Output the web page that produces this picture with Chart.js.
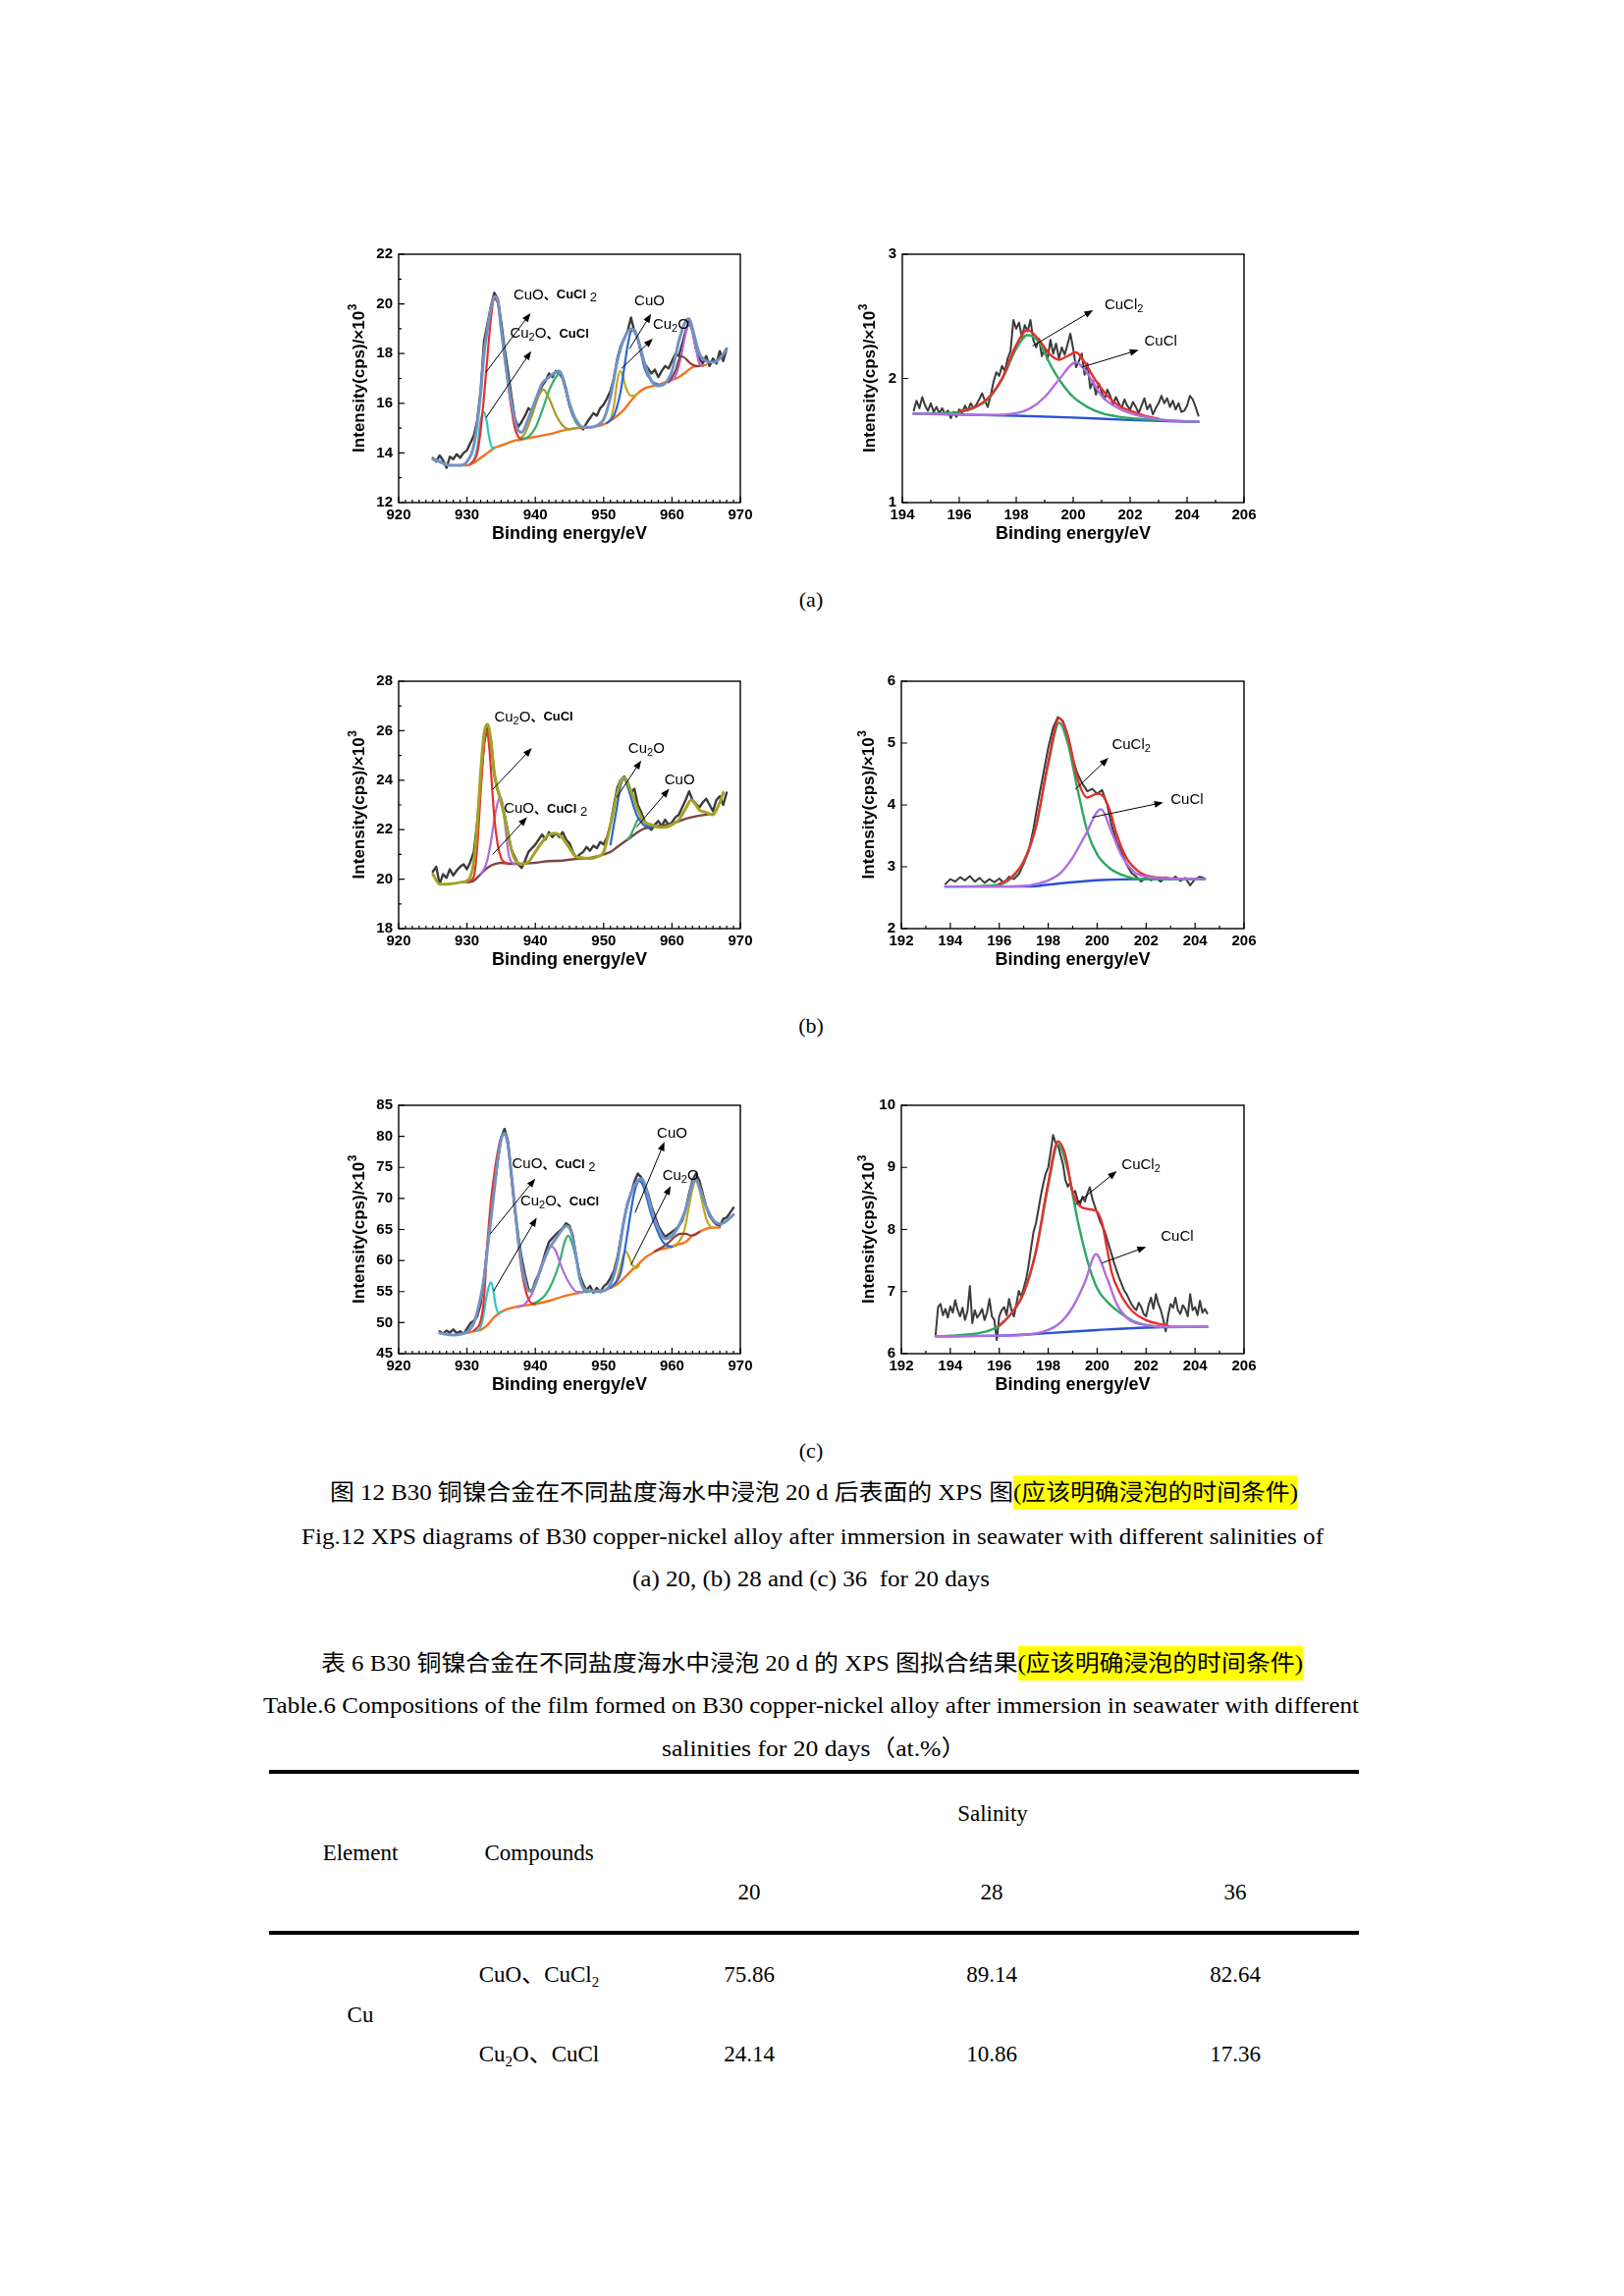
<!DOCTYPE html>
<html>
<head>
<meta charset="utf-8">
<script src="https://cdn.jsdelivr.net/npm/chart.js@4.4.0/dist/chart.umd.min.js"></script>
<style>
  body { margin: 0; background: #fff; }
  #page { position: relative; width: 1654px; height: 2339px; background: #fff; overflow: hidden;
          font-family: "Liberation Serif", "Times New Roman", "Noto Sans CJK SC", serif; color: #000; }
  .t { position: absolute; white-space: nowrap; font-size: 23px; line-height: 30px; }
  .c { position: absolute; white-space: nowrap; font-size: 23px; line-height: 30px; transform: translate(-50%, -50%); }
  .hl { background: #ffff00; padding: 5px 0; }
  .rule { position: absolute; background: #000; height: 4px; left: 274px; width: 1110px; }
  sub { font-size: 15px; vertical-align: -5px; line-height: 0; }
</style>
</head>
<body>
<div id="page">
  <div class="c" style="left:826px;top:611px;font-size:22px">(a)</div>
  <div class="c" style="left:826px;top:1045px;font-size:22px">(b)</div>
  <div class="c" style="left:826px;top:1478px;font-size:22px">(c)</div>

  <div class="t fit" data-l="336" data-w="986" style="top:1506px">图 12 B30 铜镍合金在不同盐度海水中浸泡 20 d 后表面的 XPS 图<span class="hl">(应该明确浸泡的时间条件)</span></div>
  <div class="t fit" data-l="307" data-w="1041" style="top:1551px">Fig.12 XPS diagrams of B30 copper-nickel alloy after immersion in seawater with different salinities of</div>
  <div class="t fit" data-l="644" data-w="364" style="top:1594px">(a) 20, (b) 28 and (c) 36&nbsp; for 20 days</div>

  <div class="t fit" data-l="327" data-w="1000" style="top:1680px">表 6 B30 铜镍合金在不同盐度海水中浸泡 20 d 的 XPS 图拟合结果<span class="hl">(应该明确浸泡的时间条件)</span></div>
  <div class="t fit" data-l="268" data-w="1116" style="top:1723px">Table.6 Compositions of the film formed on B30 copper-nickel alloy after immersion in seawater with different</div>
  <div class="t fit" data-l="674" data-w="310" style="top:1767px">salinities for 20 days（at.%）</div>

  <div class="rule" style="top:1803px"></div>
  <div class="rule" style="top:1967px"></div>
  <div id="table"></div>
</div>

<script>
// ---------- data ----------
// Cu 2p, left column (binding energy / eV, intensity / 10^3 cps)
const eCuAB = [925,925.5,926,926.5,927,927.5,928,928.5,929,929.5,
  930,930.5,931,931.5,932,932.5,933,933.5,934,934.5,
  935,935.5,936,936.5,937,937.5,938,938.5,939,939.5,
  940,940.5,941,941.5,942,942.5,943,943.5,944,944.5,
  945,945.5,946,946.5,947,947.5,948,948.5,949,949.5,
  950,950.5,951,951.5,952,952.5,953,953.5,954,954.5,
  955,955.5,956,956.5,957,957.5,958,958.5,959,959.5,
  960,960.5,961,961.5,962,962.5,963,963.5,964,964.5,
  965,965.5,966,966.5,967,967.5,968];
const eCuC = [926,926.5,927,927.5,928,928.5,929,929.5,930,930.5,
  931,931.5,932,932.5,933,933.5,934,934.5,935,935.5,
  936,936.5,937,937.5,938,938.5,939,939.5,940,940.5,
  941,941.5,942,942.5,943,943.5,944,944.5,945,945.5,
  946,946.5,947,947.5,948,948.5,949,949.5,950,950.5,
  951,951.5,952,952.5,953,953.5,954,954.5,955,955.5,
  956,956.5,957,957.5,958,958.5,959,959.5,960,960.5,
  961,961.5,962,962.5,963,963.5,964,964.5,965,965.5,
  966,966.5,967,967.5,968,968.5,969];

const rawA_Cu = [13.8,13.65,13.9,13.7,13.4,13.85,13.75,13.95,13.8,14.0,
  14.1,14.4,14.7,15.3,16.5,18.5,19.2,19.9,20.45,20.2,
  19.3,18.2,17.3,16.3,15.4,15.05,15.25,15.5,15.8,15.7,
  16.1,16.4,16.7,16.9,17.2,17.05,17.3,17.2,17.0,16.5,
  15.9,15.5,15.3,15.1,14.95,15.2,15.4,15.6,15.5,15.8,
  15.95,16.2,16.5,17.0,17.8,18.3,18.6,18.9,19.45,18.9,
  18.6,18.0,17.6,17.4,17.2,17.35,17.05,17.3,17.5,17.4,
  17.7,18.0,17.9,18.4,18.9,19.3,18.9,18.2,17.8,17.6,
  17.9,17.5,17.8,17.6,18.1,17.7,18.2];
const rawB_Cu = [20.3,20.5,19.8,20.2,20.05,20.4,20.15,20.35,20.5,20.6,
  20.4,20.7,21.1,22.3,23.9,25.5,26.2,25.6,24.2,23.6,
  23.2,22.6,21.9,21.2,20.9,20.6,20.45,20.75,21.1,21.25,
  21.4,21.6,21.8,21.6,21.9,21.7,21.85,21.7,21.9,21.6,
  21.45,21.1,20.85,21.0,21.1,21.3,21.15,21.35,21.25,21.5,
  21.4,21.7,22.2,23.0,23.7,24.0,24.15,23.95,23.5,23.65,
  23.0,22.7,22.35,22.1,22.0,22.2,22.35,22.15,22.4,22.2,
  22.3,22.5,22.6,22.9,23.2,23.55,23.2,23.05,22.9,23.1,
  23.25,23.0,22.75,23.2,23.35,23.0,23.5];
const rawC_Cu = [48.6,48.2,48.7,48.4,48.9,48.3,48.6,48.2,49.0,49.9,
  50.3,51.0,53.0,57.2,62.5,67.2,71.9,76.1,79.8,81.2,
  79.2,73.5,68.2,64.0,60.4,57.7,55.4,55.0,56.7,57.8,
  59.5,61.4,63.0,63.6,64.2,64.7,65.2,66.0,65.6,64.0,
  60.4,57.7,56.2,55.2,55.9,54.8,55.6,54.9,55.8,56.3,
  57.2,58.3,60.4,63.5,66.6,69.3,70.8,72.7,74.0,73.4,
  72.3,70.8,68.7,67.2,65.6,64.6,63.8,64.2,64.6,65.0,
  65.6,66.4,68.2,70.8,72.9,74.0,72.9,70.8,68.7,67.2,
  66.4,65.8,65.6,66.7,66.9,67.7,68.5];

// fitted Cu 2p curves, [energy, intensity]
const aCu_bg = [[929,13.5],[930,13.5],[931,13.6],[932,13.8],[933,14.0],[934,14.2],[935,14.3],[936,14.4],[937,14.5],[938,14.55],[940,14.65],[942,14.75],[944,14.9],[946,15.0],[948,15.03],[950,15.15],[951,15.3],[952,15.5],[953,15.75],[954,16.1],[955,16.4],[956,16.6],[958,16.75],[960,16.95],[961,17.05],[962,17.25],[963,17.45],[964,17.5],[965,17.55]];
const aCu_env = [[925,13.75],[926,13.65],[927,13.52],[928,13.5],[929,13.5],[930,13.65],[931,14.3],[932,16.4],[932.5,18.0],[933,19.0],[933.5,19.8],[934,20.3],[934.5,20.15],[935,19.0],[936,16.9],[937,15.35],[937.5,14.9],[938,14.83],[939,15.4],[940,16.1],[941,16.8],[942,17.05],[943,17.25],[943.5,17.3],[944,17.05],[945,16.0],[946,15.3],[947,15.03],[948,15.03],[949,15.1],[950,15.35],[951,16.25],[952,17.7],[953,18.6],[954,19.0],[954.5,18.95],[955,18.6],[956,17.6],[957,16.9],[958,16.7],[959,16.8],[960,17.3],[961,18.5],[962,19.3],[962.5,19.4],[963,19.0],[964,18.0],[965,17.7],[966,17.65],[967,17.8],[968,18.2]];
const aCu_red = [[930.5,13.55],[931.5,14.0],[932,14.9],[932.5,16.3],[933,17.9],[933.5,19.4],[934,20.2],[934.5,20.05],[935,19.0],[935.5,17.9],[936,16.8],[936.5,15.8],[937,15.0],[937.5,14.65],[938,14.55]];
const aCu_cyan = [[930.5,13.55],[931,13.7],[931.5,14.2],[932,15.3],[932.4,15.65],[932.8,15.4],[933.2,14.7],[933.6,14.25],[934,14.2]];
const aCu_olive = [[937.5,14.5],[938.5,14.8],[939.5,15.5],[940.5,16.3],[941.2,16.55],[942,16.2],[943,15.55],[944,15.1],[945,14.95],[946,15.0]];
const aCu_green = [[938,14.55],[939,14.65],[940,15.0],[941,15.7],[942,16.5],[943,17.05],[943.7,17.2],[944.5,16.6],[945,16.0],[945.5,15.5],[946,15.2],[947,15.03]];
const aCu_blue = [[950.5,15.2],[951.5,15.5],[952,15.9],[952.5,16.5],[953,17.4],[953.5,18.3],[954,18.9],[954.5,18.95],[955,18.6],[955.5,18.0],[956,17.4],[957,16.9],[958,16.75]];
const aCu_yellow = [[950.5,15.2],[951,15.35],[951.5,15.9],[952,16.9],[952.4,17.3],[952.8,17.1],[953.3,16.6],[954,16.3],[954.5,16.3],[955,16.4]];
const aCu_brown = [[959.5,16.85],[960.5,17.3],[961.3,17.9],[962,17.8],[962.5,17.65],[963,17.55],[963.5,17.5],[964,17.5]];
const aCu_purple = [[959.5,16.85],[960.5,17.1],[961,17.5],[961.5,18.1],[962,18.8],[962.5,19.2],[963,18.9],[963.5,18.2],[964,17.6],[964.5,17.5]];

const bCu_bg = [[930,19.87],[931,19.94],[932,20.2],[933,20.46],[934,20.6],[935,20.66],[936,20.63],[938,20.62],[940,20.66],[942,20.73],[944,20.75],[946,20.82],[948,20.86],[950,21.0],[951,21.1],[952,21.3],[953,21.5],[954,21.7],[955,21.9],[956,22.05],[957,22.1],[958,22.15],[960,22.24],[962,22.44],[964,22.57],[966,22.64]];
const bCu_env = [[925,20.2],[926,19.8],[927,19.8],[928,19.82],[929,19.87],[930,19.93],[930.5,20.1],[931,20.7],[931.5,22.2],[932,24.3],[932.5,25.87],[933,26.26],[933.5,25.6],[934,24.3],[934.5,23.6],[935,23.1],[935.5,22.5],[936,21.8],[936.5,21.2],[937,20.8],[937.5,20.65],[938,20.6],[939,20.7],[940,21.1],[941,21.5],[942,21.8],[943,21.85],[944,21.65],[945,21.25],[946,20.9],[947,20.86],[948,20.83],[949,20.9],[950,21.1],[951,22.2],[952,23.5],[952.5,23.95],[953,24.1],[953.5,23.9],[954,23.56],[954.5,23.2],[955,22.8],[956,22.3],[957,22.2],[958,22.1],[959,22.1],[960,22.2],[961,22.4],[962,22.85],[962.8,23.2],[963.5,23.0],[964,22.8],[965,22.7],[966,22.6],[966.5,22.8],[967,23.1],[967.5,23.5]];
const bCu_red = [[930.5,19.95],[931,20.1],[931.5,21.3],[932,23.5],[932.5,25.4],[932.9,26.0],[933.3,25.2],[933.7,23.6],[934,22.5],[934.5,21.4],[935,20.85],[935.5,20.68],[936,20.63]];
const bCu_purple = [[932,20.2],[932.5,20.4],[933,20.8],[933.5,21.5],[934,22.4],[934.5,23.1],[934.9,23.3],[935.3,22.9],[935.7,21.9],[936.1,21.0],[936.5,20.7],[937,20.62]];
const bCu_blue = [[951,21.4],[951.5,22.2],[952,23.0],[952.5,23.8],[953,24.05],[953.5,23.75],[954,23.3],[954.5,22.85],[955,22.5],[955.5,22.3],[956,22.15],[956.5,22.1],[957,22.1]];
const bCu_green = [[953.5,21.6],[954,21.8],[954.5,22.1],[955,22.4],[955.5,22.45],[956,22.35],[956.5,22.2],[957,22.12]];

const cCu_bg = [[930,48.3],[931,48.6],[932,48.8],[933,49.6],[934,50.9],[935,51.7],[936,52.2],[937,52.5],[938,52.7],[940,53.0],[942,53.5],[944,54.2],[946,54.7],[948,55.1],[950,55.2],[951,55.6],[952,56.2],[953,57.2],[954,58.3],[955,59.3],[956,60.4],[957,61.1],[958,61.7],[960,62.2],[961,62.6],[962,63.0],[963,64.0],[964,64.6],[965,65.1],[966,65.3],[967,65.3]];
const cCu_env = [[926,48.3],[928,48.0],[930,48.5],[931,49.9],[932,54.1],[932.5,57.2],[933,61.9],[933.5,66.6],[934,71.4],[934.5,76.1],[935,79.5],[935.5,80.5],[936,78.7],[936.5,74.0],[937,68.7],[937.5,63.5],[938,59.3],[938.5,56.7],[939,55.1],[939.5,55.1],[940,56.2],[941,59.3],[942,61.9],[943,63.5],[944,65.1],[944.5,65.6],[945,65.3],[945.5,63.5],[946,60.4],[946.5,57.2],[947,55.6],[948,55.1],[949,55.0],[950,55.1],[951,56.2],[952,59.8],[953,66.6],[954,70.8],[955,72.9],[955.5,73.2],[956,72.4],[957,68.2],[958,65.1],[959,63.5],[960,64.0],[961,65.6],[962,68.2],[963,72.4],[963.5,73.2],[964,71.9],[965,68.7],[966,66.6],[967,65.9],[968,66.4],[969,67.4]];
const cCu_red = [[931,48.7],[932,50.3],[932.5,54.0],[933,63.0],[933.5,69.5],[934,74.0],[934.5,77.5],[935,79.8],[935.5,80.3],[936,78.5],[936.5,73.8],[937,68.5],[937.5,63.0],[938,58.5],[938.5,55.5],[939,53.8],[939.5,53.1],[940,53.0]];
const cCu_cyan = [[931,48.6],[931.8,48.9],[932.3,50.5],[932.8,53.8],[933.2,55.8],[933.5,56.5],[933.8,55.5],[934.2,52.8],[934.6,51.6],[935,51.75]];
const cCu_purple = [[937.5,52.5],[938.5,53.0],[939.5,54.6],[940.5,57.5],[941.5,60.6],[942.3,62.3],[943,61.5],[943.5,60.0],[944,58.5],[945,56.3],[946,55.0],[947,54.9]];
const cCu_green = [[939.5,53.0],[940.5,53.5],[941.5,54.5],[942.5,56.5],[943.5,59.5],[944.3,63.0],[944.8,64.0],[945.3,63.0],[946,60.2],[946.5,57.5],[947,55.5],[947.5,54.9],[948,55.1]];
const cCu_blue = [[951,55.6],[952,56.8],[952.5,58.0],[953,61.0],[953.5,64.5],[954,68.0],[954.5,71.0],[955.2,72.8],[955.8,72.0],[956.5,69.3],[957,67.3],[957.5,65.8],[958,64.4],[958.5,63.3],[959,62.6],[960,62.2]];
const cCu_yellow = [[951,55.6],[951.8,56.5],[952.4,58.8],[953.2,61.5],[953.7,60.6],[954.2,59.3],[954.8,58.8],[955.2,59.2]];
const cCu_brown = [[957.5,61.5],[958.5,62.1],[959.5,62.9],[960.5,63.9],[961.2,64.3],[962,64.3],[962.8,64.0],[963.5,64.2],[964,64.6]];
const cCu_yellow2 = [[960,62.3],[961,63.0],[961.8,64.8],[962.4,68.2],[963,71.5],[963.5,72.8],[964,71.5],[964.5,69.0],[965,66.8],[965.5,65.6],[966,65.3]];

// Cl 2p, right column
const eClA = [194.4,194.5,194.6,194.7,194.8,194.9,195.0,195.1,195.2,195.3,
  195.4,195.5,195.6,195.7,195.8,195.9,196.0,196.1,196.2,196.3,
  196.4,196.5,196.6,196.7,196.8,196.9,197.0,197.1,197.2,197.3,
  197.4,197.5,197.6,197.7,197.8,197.9,198.0,198.1,198.2,198.3,
  198.4,198.5,198.6,198.7,198.8,198.9,199.0,199.1,199.2,199.3,
  199.4,199.5,199.6,199.7,199.8,199.9,200.0,200.1,200.2,200.3,
  200.4,200.5,200.6,200.7,200.8,200.9,201.0,201.1,201.2,201.3,
  201.4,201.5,201.6,201.7,201.8,201.9,202.0,202.1,202.2,202.3,
  202.4,202.5,202.6,202.7,202.8,202.9,203.0,203.1,203.2,203.3,
  203.4,203.5,203.6,203.7,203.8,203.9,204.0,204.1,204.2,204.3,
  204.4];
const rawA_Cl = [1.74,1.82,1.76,1.85,1.78,1.74,1.80,1.73,1.77,1.72,
  1.76,1.71,1.74,1.68,1.73,1.69,1.75,1.72,1.78,1.74,
  1.80,1.76,1.79,1.83,1.88,1.82,1.77,1.86,1.97,2.05,
  2.02,2.10,2.06,2.16,2.22,2.47,2.40,2.45,2.33,2.43,
  2.38,2.47,2.31,2.25,2.32,2.18,2.24,2.15,2.31,2.20,
  2.28,2.16,2.25,2.19,2.27,2.36,2.24,2.09,2.14,2.20,
  2.03,2.12,1.92,1.98,1.87,1.96,1.89,1.83,1.91,1.86,
  1.79,1.85,1.80,1.76,1.83,1.78,1.75,1.81,1.77,1.72,
  1.78,1.84,1.75,1.79,1.71,1.76,1.80,1.86,1.80,1.84,
  1.77,1.82,1.75,1.80,1.73,1.74,1.78,1.86,1.83,1.77,
  1.70];
const eClB = [193.8,194.0,194.2,194.4,194.6,194.8,195.0,195.2,195.4,195.6,
  195.8,196.0,196.2,196.4,196.6,196.8,197.0,197.2,197.4,197.6,
  197.8,198.0,198.2,198.4,198.6,198.8,199.0,199.2,199.4,199.6,
  199.8,200.0,200.2,200.4,200.6,200.8,201.0,201.2,201.4,201.6,
  201.8,202.0,202.2,202.4,202.6,202.8,203.0,203.2,203.4,203.6,
  203.8,204.0,204.2,204.4];
const rawB_Cl = [2.72,2.80,2.76,2.83,2.78,2.85,2.76,2.82,2.74,2.80,
  2.75,2.81,2.74,2.84,2.80,2.88,3.05,3.25,3.62,4.08,
  4.50,4.92,5.25,5.42,5.36,5.12,4.75,4.50,4.34,4.22,
  4.26,4.18,4.24,4.02,3.66,3.40,3.24,3.04,2.90,2.84,
  2.76,2.83,2.78,2.82,2.76,2.83,2.79,2.84,2.77,2.82,
  2.70,2.80,2.84,2.81];
const eClC = [193.4,193.5,193.6,193.7,193.8,193.9,194.0,194.1,194.2,194.3,
  194.4,194.5,194.6,194.7,194.8,194.9,195.0,195.1,195.2,195.3,
  195.4,195.5,195.6,195.7,195.8,195.9,196.0,196.1,196.2,196.3,
  196.4,196.5,196.6,196.7,196.8,196.9,197.0,197.1,197.2,197.3,
  197.4,197.5,197.6,197.7,197.8,197.9,198.0,198.1,198.2,198.3,
  198.4,198.5,198.6,198.7,198.8,198.9,199.0,199.1,199.2,199.3,
  199.4,199.5,199.6,199.7,199.8,199.9,200.0,200.1,200.2,200.3,
  200.4,200.5,200.6,200.7,200.8,200.9,201.0,201.1,201.2,201.3,
  201.4,201.5,201.6,201.7,201.8,201.9,202.0,202.1,202.2,202.3,
  202.4,202.5,202.6,202.7,202.8,202.9,203.0,203.1,203.2,203.3,
  203.4,203.5,203.6,203.7,203.8,203.9,204.0,204.1,204.2,204.3,
  204.4,204.5];
const rawC_Cl = [6.30,6.75,6.80,6.62,6.72,6.58,6.76,6.66,6.86,6.70,
  6.60,6.74,6.54,6.68,7.09,6.49,6.70,6.58,6.64,6.72,
  6.54,6.66,6.88,6.60,6.54,6.22,6.60,6.70,6.75,6.62,
  6.88,6.70,6.60,6.80,7.01,6.92,7.06,7.20,7.43,7.70,
  7.96,8.10,8.32,8.55,8.74,8.90,9.00,9.25,9.52,9.40,
  9.37,9.20,9.06,8.80,8.69,8.75,8.58,8.62,8.48,8.40,
  8.53,8.45,8.58,8.68,8.50,8.38,8.27,8.15,8.06,7.98,
  7.85,7.72,7.59,7.45,7.33,7.22,7.12,7.02,6.96,6.88,
  6.80,6.74,6.70,6.82,6.75,6.64,6.60,6.78,6.90,6.72,
  6.96,6.80,6.70,6.55,6.36,6.62,6.80,6.74,6.90,6.70,
  6.64,6.78,6.72,6.60,6.96,6.70,6.75,6.62,6.85,6.66,
  6.72,6.65];

const aCl_bg = [[194.4,1.715],[198,1.70],[200,1.685],[202,1.665],[204.4,1.65]];
const aCl_green = [[194.4,1.715],[195.5,1.72],[196,1.73],[196.5,1.76],[197,1.83],[197.5,1.99],[198,2.24],[198.4,2.35],[198.8,2.29],[199.2,2.11],[199.6,1.96],[200,1.85],[200.5,1.77],[201,1.72],[201.5,1.695],[202,1.68],[203,1.665],[204.4,1.65]];
const aCl_purple = [[194.4,1.715],[196,1.71],[197,1.705],[198,1.72],[198.5,1.76],[199,1.85],[199.5,1.99],[200.1,2.13],[200.5,2.04],[201,1.86],[201.5,1.77],[202,1.72],[203,1.67],[204.4,1.65]];
const aCl_red = [[196,1.735],[196.5,1.765],[197,1.84],[197.5,2.0],[198,2.27],[198.4,2.39],[198.8,2.31],[199.2,2.19],[199.5,2.15],[199.8,2.18],[200.1,2.21],[200.4,2.13],[200.8,1.98],[201.2,1.86],[201.6,1.78],[202,1.74],[202.5,1.7],[203,1.675]];

const bCl_bg = [[193.8,2.68],[197.3,2.68],[198,2.71],[199,2.75],[200.2,2.785],[202,2.8],[204.4,2.8]];
const bCl_green = [[193.8,2.68],[195,2.685],[196,2.71],[196.5,2.82],[197,3.08],[197.5,3.65],[198,4.65],[198.45,5.33],[198.8,5.0],[199.2,4.25],[199.6,3.57],[200,3.2],[200.5,2.98],[201,2.87],[201.5,2.81],[202,2.8],[203,2.8],[204.4,2.8]];
const bCl_purple = [[193.8,2.68],[196,2.68],[197,2.69],[197.5,2.72],[198,2.78],[198.5,2.9],[199,3.15],[199.5,3.5],[200.15,3.93],[200.6,3.55],[201,3.18],[201.5,2.92],[202,2.84],[203,2.81],[204.4,2.8]];
const bCl_red = [[196,2.72],[196.5,2.83],[197,3.09],[197.5,3.65],[198,4.7],[198.45,5.4],[198.8,5.12],[199.2,4.42],[199.6,4.12],[200,4.18],[200.2,4.16],[200.5,3.93],[200.8,3.52],[201.2,3.14],[201.7,2.92],[202,2.86],[203,2.81]];

const cCl_bg = [[193.4,6.28],[196,6.29],[198,6.33],[200,6.38],[202,6.42],[204.5,6.43]];
const cCl_green = [[193.4,6.28],[194,6.29],[195,6.32],[195.5,6.36],[196,6.45],[196.5,6.65],[197,6.98],[197.5,7.65],[198,8.7],[198.4,9.37],[198.8,8.95],[199.2,8.15],[199.6,7.5],[200,7.05],[200.5,6.8],[201,6.64],[201.5,6.52],[202,6.46],[203,6.43],[204.5,6.43]];
const cCl_purple = [[193.4,6.28],[196,6.29],[197,6.3],[198,6.38],[198.5,6.5],[199,6.75],[199.5,7.15],[199.95,7.6],[200.4,7.22],[200.8,6.8],[201.3,6.55],[202,6.46],[203,6.43],[204.5,6.43]];
const cCl_red = [[196,6.45],[196.5,6.65],[197,6.98],[197.5,7.65],[198,8.75],[198.4,9.42],[198.7,9.2],[199,8.6],[199.4,8.35],[199.95,8.3],[200.2,8.1],[200.4,7.7],[200.6,7.3],[200.9,7.0],[201.4,6.7],[202,6.54],[202.5,6.48],[203,6.44]];

// table 6
const tableSalinity = ['20', '28', '36'];
const tableCompounds = ['CuO、CuCl<sub>2</sub>', 'Cu<sub>2</sub>O、CuCl'];
const tableValues = [[75.86, 89.14, 82.64], [24.14, 10.86, 17.36]];

// ---------- drawing ----------
const SANS = '"Liberation Sans", Arial, "Noto Sans CJK SC", sans-serif';
Chart.defaults.font.family = SANS;

const C = {
  raw: '#3b3b3b', envBlue: '#7292c2', envOlive: '#a3a324', orange: '#f3731f', brownBg: '#7d4545',
  red: '#e6302e', cyan: '#2dc6c6', green: '#36b06a', olive: '#a89a26', blue: '#2a66d6',
  yellow: '#c2a81f', purple: '#b36ad8', brown: '#8e3c3c', clGreen: '#2fa862', clPurple: '#b06ee0', clBlue: '#2a52d6'
};

const runFont = {
  r: ['15px ' + SANS, 0], b: ['bold 13px ' + SANS, 0], s: ['11px ' + SANS, 4], t: ['13px ' + SANS, 3]
};
const L = {
  cuoCucl2: [['r', 'CuO'], ['b', '、CuCl'], ['t', ' 2']],
  cu2oCucl: [['r', 'Cu'], ['s', '2'], ['r', 'O'], ['b', '、CuCl']],
  cuo: [['r', 'CuO']],
  cu2o: [['r', 'Cu'], ['s', '2'], ['r', 'O']],
  cucl2: [['r', 'CuCl'], ['s', '2']],
  cucl: [['r', 'CuCl']]
};

const pairs = arr => arr.map(p => ({x: p[0], y: p[1]}));
const zip = (xs, ys) => xs.map((x, i) => ({x, y: ys[i]}));

function raw(xs, ys, w) { return {data: zip(xs, ys), color: C.raw, width: w, order: 9, smooth: false}; }
function fit(arr, color, width, order) { return {data: pairs(arr), color, width, order, smooth: true}; }

function makeChart(spec) {
  const Y_W = 66, PAD_T = 14, PAD_R = 24, X_H = 50;
  const {box, ax, sets, labels, arrows} = spec;
  const cw = Y_W + box.w + PAD_R, ch = PAD_T + box.h + X_H;
  const cv = document.createElement('canvas');
  cv.width = cw; cv.height = ch;
  cv.style.cssText = `position:absolute;left:${box.left - Y_W}px;top:${box.top - PAD_T}px;width:${cw}px;height:${ch}px`;
  document.getElementById('page').appendChild(cv);

  const frame = {
    id: 'frame',
    afterDatasetsDraw(chart) {
      const {ctx, chartArea: a} = chart;
      const xs = chart.scales.x, ys = chart.scales.y;
      ctx.save();
      ctx.strokeStyle = '#000';
      ctx.lineWidth = 1.4;
      ctx.strokeRect(a.left, a.top, a.right - a.left, a.bottom - a.top);
      ctx.lineWidth = 1.2;
      ctx.beginPath();
      const nx = Math.round((ax.xMax - ax.xMin) / ax.xMinor);
      for (let i = 0; i <= nx; i++) {
        const v = ax.xMin + i * ax.xMinor;
        const major = Math.abs((v - ax.xMin) / ax.xStep - Math.round((v - ax.xMin) / ax.xStep)) < 1e-6;
        const px = xs.getPixelForValue(v);
        ctx.moveTo(px, a.bottom); ctx.lineTo(px, a.bottom - (major ? 6 : 3));
      }
      const ny = Math.round((ax.yMax - ax.yMin) / (ax.yMinor || ax.yStep));
      for (let i = 0; i <= ny; i++) {
        const v = ax.yMin + i * (ax.yMinor || ax.yStep);
        const major = Math.abs((v - ax.yMin) / ax.yStep - Math.round((v - ax.yMin) / ax.yStep)) < 1e-6;
        const py = ys.getPixelForValue(v);
        ctx.moveTo(a.left, py); ctx.lineTo(a.left + (major ? 6 : 3), py);
      }
      ctx.stroke();

      // y axis title with a real superscript
      ctx.translate(a.left - spec.yTitleGap, (a.top + a.bottom) / 2);
      ctx.rotate(-Math.PI / 2);
      ctx.fillStyle = '#000';
      ctx.textBaseline = 'middle';
      const main = 'Intensity(cps)/×10', sup = '3';
      ctx.font = 'bold 17px ' + SANS;
      const w1 = ctx.measureText(main).width;
      ctx.font = 'bold 12px ' + SANS;
      const w2 = ctx.measureText(sup).width;
      const x0 = -(w1 + w2) / 2;
      ctx.font = 'bold 17px ' + SANS;
      ctx.fillText(main, x0, 0);
      ctx.font = 'bold 12px ' + SANS;
      ctx.fillText(sup, x0 + w1 + 0.5, -6);
      ctx.restore();
    }
  };

  const notes = {
    id: 'notes',
    afterDatasetsDraw(chart) {
      const {ctx} = chart;
      const xs = chart.scales.x, ys = chart.scales.y;
      ctx.save();
      ctx.fillStyle = '#000';
      ctx.strokeStyle = '#000';
      ctx.textBaseline = 'middle';
      labels.forEach(l => {
        let px = xs.getPixelForValue(l.x);
        const py = ys.getPixelForValue(l.y);
        l.text.forEach(([k, t]) => {
          ctx.font = runFont[k][0];
          ctx.fillText(t, px, py + runFont[k][1]);
          px += ctx.measureText(t).width;
        });
      });
      ctx.lineWidth = 1;
      arrows.forEach(([x0, y0, x1, y1]) => {
        const ax0 = xs.getPixelForValue(x0), ay0 = ys.getPixelForValue(y0);
        const ax1 = xs.getPixelForValue(x1), ay1 = ys.getPixelForValue(y1);
        const ang = Math.atan2(ay1 - ay0, ax1 - ax0);
        ctx.beginPath();
        ctx.moveTo(ax0, ay0);
        ctx.lineTo(ax1 - 6 * Math.cos(ang), ay1 - 6 * Math.sin(ang));
        ctx.stroke();
        ctx.beginPath();
        ctx.moveTo(ax1, ay1);
        ctx.lineTo(ax1 - 9 * Math.cos(ang) + 3.5 * Math.sin(ang), ay1 - 9 * Math.sin(ang) - 3.5 * Math.cos(ang));
        ctx.lineTo(ax1 - 9 * Math.cos(ang) - 3.5 * Math.sin(ang), ay1 - 9 * Math.sin(ang) + 3.5 * Math.cos(ang));
        ctx.closePath();
        ctx.fill();
      });
      ctx.restore();
    }
  };

  const tickFont = {family: SANS, size: 15, weight: 'bold'};
  new Chart(cv, {
    type: 'line',
    data: {
      datasets: sets.map(s => ({
        data: s.data, borderColor: s.color, borderWidth: s.width, order: s.order,
        pointRadius: 0, fill: false, tension: s.smooth ? 0.4 : 0,
        cubicInterpolationMode: s.smooth ? 'monotone' : 'default',
        borderJoinStyle: 'round', borderCapStyle: 'round'
      }))
    },
    options: {
      responsive: false, animation: false, devicePixelRatio: 1, events: [],
      layout: {padding: {top: PAD_T, right: PAD_R, left: 0, bottom: 0}, autoPadding: false},
      plugins: {legend: {display: false}, tooltip: {enabled: false}},
      scales: {
        x: {
          type: 'linear', min: ax.xMin, max: ax.xMax,
          afterFit: s => { s.height = X_H; },
          ticks: {stepSize: ax.xStep, font: tickFont, color: '#000', padding: 4, maxRotation: 0, autoSkip: false},
          grid: {display: false, drawTicks: false}, border: {display: false},
          title: {display: true, text: 'Binding energy/eV', color: '#000',
                  font: {family: SANS, size: 18, weight: 'bold'}, padding: {top: 0, bottom: 7.5}}
        },
        y: {
          type: 'linear', min: ax.yMin, max: ax.yMax,
          afterFit: s => { s.width = Y_W; },
          ticks: {stepSize: ax.yStep, font: tickFont, color: '#000', padding: 6, autoSkip: false},
          grid: {display: false, drawTicks: false}, border: {display: false},
          title: {display: false}
        }
      }
    },
    plugins: [frame, notes]
  });
}

const cuAxes = (yMin, yMax, yStep, yMinor) => ({xMin: 920, xMax: 970, xStep: 10, xMinor: 1, yMin, yMax, yStep, yMinor});
const clAxes = (xMin, yMin, yMax) => ({xMin, xMax: 206, xStep: 2, xMinor: 1, yMin, yMax, yStep: 1, yMinor: 0});

// (a)
makeChart({
  box: {left: 406, top: 258, w: 348, h: 254}, ax: cuAxes(12, 22, 2, 1), yTitleGap: 40,
  sets: [raw(eCuAB, rawA_Cu, 2.4), fit(aCu_bg, C.orange, 2.4, 7),
    fit(aCu_red, C.red, 2.2, 5), fit(aCu_cyan, C.cyan, 2.2, 5), fit(aCu_olive, C.olive, 2.2, 5),
    fit(aCu_green, C.green, 2.2, 5), fit(aCu_blue, C.blue, 2.2, 5), fit(aCu_yellow, C.yellow, 2.2, 5),
    fit(aCu_brown, C.brown, 2.2, 5), fit(aCu_purple, C.purple, 2.2, 5), fit(aCu_env, C.envBlue, 3, 1)],
  labels: [{x: 936.8, y: 20.35, text: L.cuoCucl2}, {x: 936.3, y: 18.8, text: L.cu2oCucl},
    {x: 954.5, y: 20.1, text: L.cuo}, {x: 957.2, y: 19.17, text: L.cu2o}],
  arrows: [[932.8, 17.26, 939.3, 19.63], [932.8, 15.42, 939.4, 18.1], [953.8, 18.2, 956.95, 19.6], [952.6, 17.4, 957.2, 18.6]]
});
makeChart({
  box: {left: 919, top: 258, w: 348, h: 254}, ax: clAxes(194, 1, 3), yTitleGap: 33,
  sets: [raw(eClA, rawA_Cl, 2), fit(aCl_bg, C.clBlue, 2.4, 7), fit(aCl_green, C.clGreen, 2.4, 5),
    fit(aCl_red, C.red, 2.4, 3), fit(aCl_purple, C.clPurple, 2.4, 2)],
  labels: [{x: 201.1, y: 2.59, text: L.cucl2}, {x: 202.5, y: 2.3, text: L.cucl}],
  arrows: [[198.57, 2.26, 200.7, 2.55], [200.3, 2.09, 202.3, 2.23]]
});

// (b)
makeChart({
  box: {left: 406, top: 693, w: 348, h: 253}, ax: cuAxes(18, 28, 2, 1), yTitleGap: 40,
  sets: [raw(eCuAB, rawB_Cu, 2.4), fit(bCu_bg, C.brownBg, 2.4, 7),
    fit(bCu_red, C.red, 2.2, 5), fit(bCu_purple, C.purple, 2.2, 5), fit(bCu_blue, C.blue, 2.2, 5),
    fit(bCu_green, C.green, 2.2, 5), fit(bCu_env, C.envOlive, 3, 1)],
  labels: [{x: 934.0, y: 26.55, text: L.cu2oCucl}, {x: 935.4, y: 22.84, text: L.cuoCucl2},
    {x: 953.6, y: 25.27, text: L.cu2o}, {x: 958.9, y: 24.0, text: L.cuo}],
  arrows: [[933.77, 23.63, 939.5, 25.3], [933.77, 21.0, 938.8, 22.5], [951.9, 23.3, 955.5, 24.8], [954.8, 22.1, 959.6, 23.65]]
});
makeChart({
  box: {left: 918, top: 693, w: 349, h: 253}, ax: clAxes(192, 2, 6), yTitleGap: 33,
  sets: [raw(eClB, rawB_Cl, 2), fit(bCl_bg, C.clBlue, 2.4, 7), fit(bCl_green, C.clGreen, 2.4, 5),
    fit(bCl_red, C.red, 2.4, 3), fit(bCl_purple, C.clPurple, 2.4, 2)],
  labels: [{x: 200.6, y: 4.97, text: L.cucl2}, {x: 203.0, y: 4.08, text: L.cucl}],
  arrows: [[199.1, 4.25, 200.46, 4.76], [199.8, 3.8, 202.7, 4.04]]
});

// (c)
makeChart({
  box: {left: 406, top: 1125, w: 348, h: 254}, ax: cuAxes(45, 85, 5, 0), yTitleGap: 40,
  sets: [raw(eCuC, rawC_Cu, 2.4), fit(cCu_bg, C.orange, 2.4, 7),
    fit(cCu_red, C.red, 2.2, 5), fit(cCu_cyan, C.cyan, 2.2, 5), fit(cCu_purple, C.purple, 2.2, 5),
    fit(cCu_green, C.green, 2.2, 5), fit(cCu_blue, C.blue, 2.2, 5), fit(cCu_yellow, C.yellow, 2.2, 5),
    fit(cCu_brown, C.brown, 2.2, 5), fit(cCu_yellow2, C.yellow, 2.2, 5), fit(cCu_env, C.envBlue, 3, 1)],
  labels: [{x: 936.6, y: 75.46, text: L.cuoCucl2}, {x: 937.8, y: 69.5, text: L.cu2oCucl},
    {x: 957.8, y: 80.5, text: L.cuo}, {x: 958.6, y: 73.7, text: L.cu2o}],
  arrows: [[933.4, 64.3, 940.0, 73.2], [933.9, 55.1, 940.2, 66.9], [954.6, 67.7, 958.9, 79.1], [954.0, 59.3, 959.8, 72.0]]
});
makeChart({
  box: {left: 918, top: 1125, w: 349, h: 254}, ax: clAxes(192, 6, 10), yTitleGap: 33,
  sets: [raw(eClC, rawC_Cl, 2), fit(cCl_bg, C.clBlue, 2.4, 7), fit(cCl_green, C.clGreen, 2.4, 5),
    fit(cCl_red, C.red, 2.4, 3), fit(cCl_purple, C.clPurple, 2.4, 2)],
  labels: [{x: 201.0, y: 9.03, text: L.cucl2}, {x: 202.6, y: 7.88, text: L.cucl}],
  arrows: [[199.1, 8.4, 200.8, 8.94], [200.2, 7.46, 202.0, 7.72]]
});

// ---------- table and caption text ----------
(function buildTable() {
  const t = document.getElementById('table');
  const cell = (x, y, html) => {
    const d = document.createElement('div');
    d.className = 'c';
    d.style.left = x + 'px'; d.style.top = y + 'px';
    d.innerHTML = html;
    t.appendChild(d);
  };
  const colX = [763, 1010, 1258];
  cell(1011, 1848, 'Salinity');
  cell(367, 1888, 'Element');
  cell(549, 1888, 'Compounds');
  tableSalinity.forEach((s, i) => cell(colX[i], 1928, s));
  cell(367, 2053, 'Cu');
  const rowY = [2012, 2093];
  tableCompounds.forEach((c, r) => {
    cell(549, rowY[r], c);
    tableValues[r].forEach((v, i) => cell(colX[i], rowY[r], v.toFixed(2)));
  });
})();

document.querySelectorAll('.fit').forEach(el => {
  el.style.left = el.dataset.l + 'px';
  const nat = el.getBoundingClientRect().width;
  el.style.transformOrigin = '0 50%';
  el.style.transform = `scaleX(${(+el.dataset.w / nat).toFixed(4)})`;
});
</script>
</body>
</html>
